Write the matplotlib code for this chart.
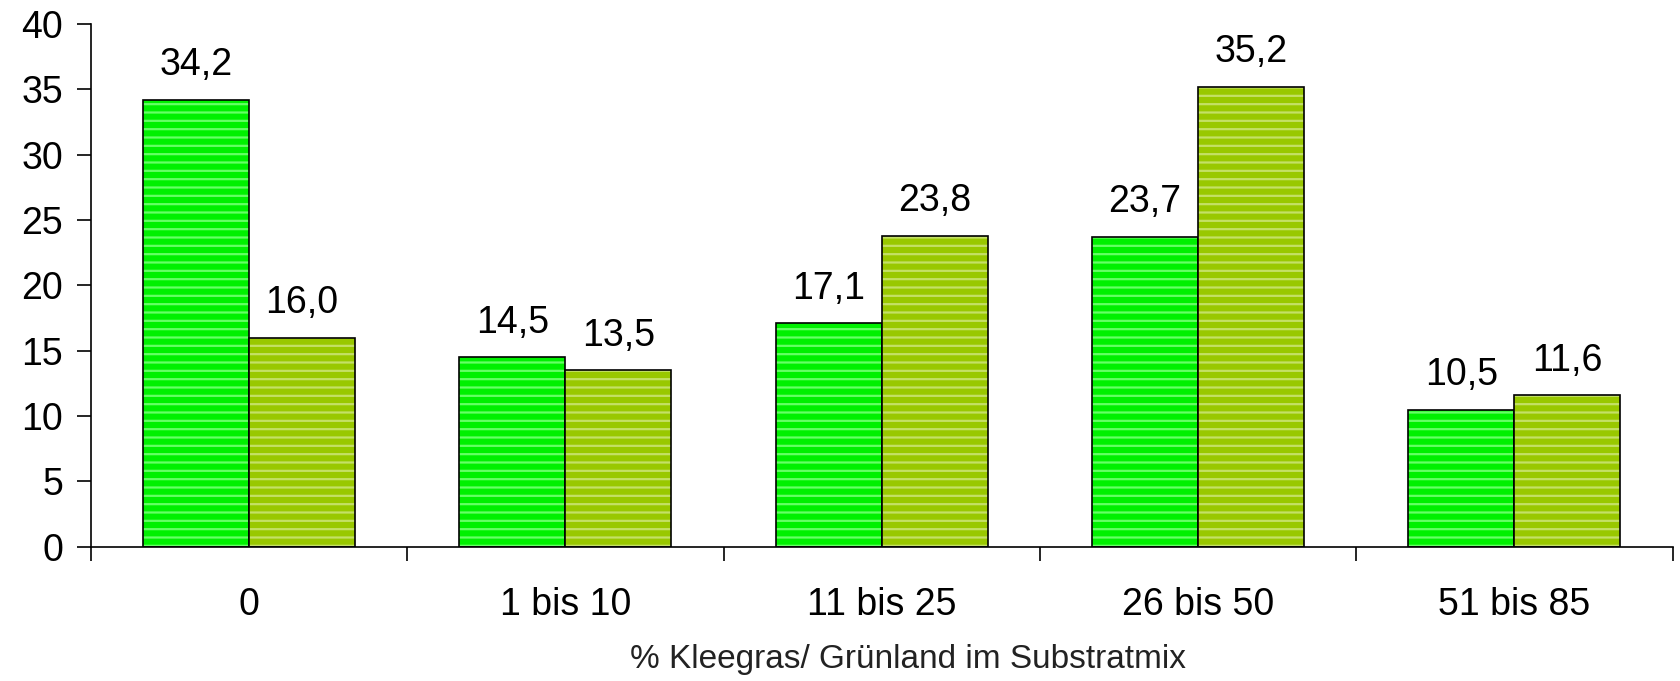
import numpy as np
import matplotlib
matplotlib.use('Agg')
import matplotlib.pyplot as plt

plt.rcParams['font.family'] = ['Liberation Sans', 'DejaVu Sans']
plt.rcParams['hatch.linewidth'] = 1.6

categories = ['0', '1 bis 10', '11 bis 25', '26 bis 50', '51 bis 85']
serie_a = [34.2, 14.5, 17.1, 23.7, 10.5]
serie_b = [16.0, 13.5, 23.8, 35.2, 11.6]
yticks = [0, 5, 10, 15, 20, 25, 30, 35, 40]
xlabel = '% Kleegras/ Grünland im Substratmix'

fig = plt.figure(figsize=(16.81, 6.81), dpi=100)
ax = fig.add_axes([0.054, 0.197, 0.941, 0.768])

x = np.arange(len(categories))
w = 0.335
colors = ['#00f000', '#99c800']
hatchcol = ['#66ff66', '#c4e066']
for k, (vals, off) in enumerate([(serie_a, -w / 2), (serie_b, w / 2)]):
    # fill + light stripes, then black outline on top
    ax.bar(x + off, vals, w, color=colors[k], edgecolor=hatchcol[k], hatch='--', linewidth=0)
    ax.bar(x + off, vals, w, facecolor='none', edgecolor='black', linewidth=1.2)
    for xi, v in zip(x + off, vals):
        ax.annotate(f'{v:.1f}'.replace('.', ','), (xi, v), xytext=(0, 12),
                    textcoords='offset points', ha='center', va='bottom', fontsize=27)

ax.set_xlim(-0.5, len(categories) - 0.5)
ax.set_ylim(0, 40)
ax.set_yticks(yticks)
ax.set_xticks(x)
ax.set_xticklabels(categories)
ax.set_xticks(np.arange(-0.5, len(categories)), minor=True)
ax.tick_params(axis='y', labelsize=27, length=10, width=1.2, pad=10)
ax.tick_params(axis='x', which='major', labelsize=27, length=0, pad=29)
ax.tick_params(axis='x', which='minor', length=10, width=1.2)
for s in ['top', 'right']:
    ax.spines[s].set_visible(False)
for s in ['left', 'bottom']:
    ax.spines[s].set_linewidth(1.2)

fig.text(0.54, 0.032, xlabel, ha='center', va='center', fontsize=24, color='#222222')

fig.savefig('out.png', dpi=100)
